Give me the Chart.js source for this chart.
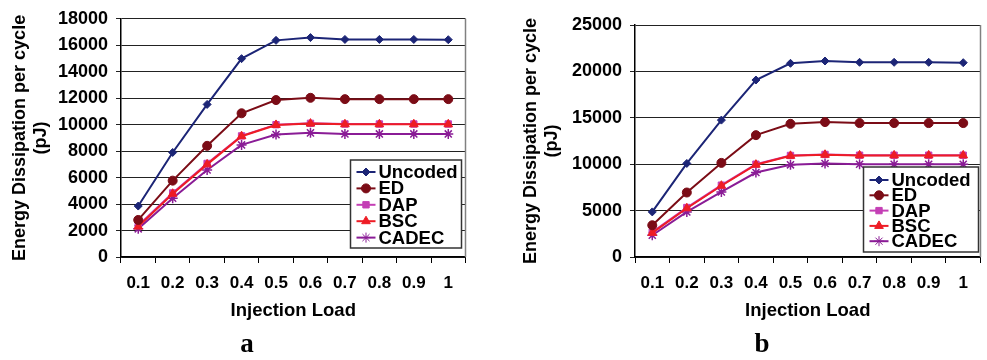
<!DOCTYPE html>
<html>
<head>
<meta charset="utf-8">
<script src="https://cdn.jsdelivr.net/npm/chart.js@4/dist/chart.umd.min.js"></script>
<style>
    body { margin: 0; background: #fff; }
    .panel { position: absolute; top: 0; height: 330px; }
    .tag {
        position: absolute; top: 330px; width: 40px; text-align: center;
        font: bold 27px "Liberation Serif", "Times New Roman", serif; line-height: 27px; color: #000;
    }
</style>
</head>
<body>
<div class="panel" style="left:0; width:472px;"><canvas id="chartA"></canvas></div>
<div class="panel" style="left:500px; width:487px;"><canvas id="chartB"></canvas></div>
<div class="tag" style="left:227px;">a</div>
<div class="tag" style="left:742px;">b</div>
<script>
// x categories
const loads = ['0.1', '0.2', '0.3', '0.4', '0.5', '0.6', '0.7', '0.8', '0.9', '1'];

// panel a values (pJ)
const uncodedA = [3850, 7900, 11530, 14990, 16370, 16580, 16440, 16440, 16440, 16420];
const edA = [2800, 5770, 8400, 10860, 11860, 12030, 11930, 11930, 11930, 11930];
const dapA = [2380, 4840, 7070, 9150, 10000, 10100, 10050, 10050, 10050, 10050];
const bscA = [2300, 4780, 7000, 9130, 9980, 10080, 10030, 10030, 10030, 10030];
const cadecA = [2130, 4440, 6570, 8470, 9250, 9380, 9300, 9300, 9300, 9300];

// panel b values (pJ)
const uncodedB = [4860, 10080, 14750, 19070, 20870, 21120, 20980, 20980, 20980, 20940];
const edB = [3420, 6950, 10140, 13130, 14350, 14540, 14430, 14430, 14430, 14430];
const dapB = [2700, 5330, 7740, 10000, 10940, 11050, 10970, 10970, 10970, 10970];
const bscB = [2600, 5250, 7680, 9950, 10900, 11020, 10950, 10950, 10950, 10950];
const cadecB = [2340, 4860, 7010, 9100, 9930, 10080, 10000, 10000, 10000, 10000];

const seriesNames = ['Uncoded', 'ED', 'DAP', 'BSC', 'CADEC'];
const seriesColors = ['#1c2576', '#7b0c16', '#c43fb5', '#ee1c25', '#8a1c96'];
const seriesMarkers = ['rectRot', 'circle', 'rect', 'triangle', 'star'];
const markerSizes = [4, 4.5, 4.5, 5, 5];
const drawOrder = [0, 1, 3, 2, 4];

const FONT = '"Liberation Sans", Arial, sans-serif';

// legend box drawn inside the plot area
const insideLegend = {
    id: 'insideLegend',
    afterDraw(chart, args, opts) {
        const ctx = chart.ctx;
        const area = chart.chartArea;
        const x = area.right - opts.right - opts.width;
        const y = area.bottom - opts.bottom - opts.height;

        ctx.save();
        // right edge of the plot frame
        ctx.strokeStyle = '#808080';
        ctx.lineWidth = 1.5;
        ctx.beginPath();
        ctx.moveTo(area.right, area.top);
        ctx.lineTo(area.right, area.bottom);
        ctx.stroke();

        ctx.fillStyle = '#fff';
        ctx.fillRect(x, y, opts.width, opts.height);
        ctx.strokeStyle = '#333';
        ctx.lineWidth = 1.5;
        ctx.strokeRect(x, y, opts.width, opts.height);

        ctx.font = 'bold 18.5px ' + FONT;
        ctx.textBaseline = 'middle';
        chart.data.datasets.forEach((ds, i) => {
            const cy = y + opts.padTop + i * opts.rowHeight;
            ctx.strokeStyle = ds.borderColor;
            ctx.fillStyle = ds.borderColor;
            ctx.lineWidth = 2;
            ctx.beginPath();
            ctx.moveTo(x + 6, cy);
            ctx.lineTo(x + 25, cy);
            ctx.stroke();
            ctx.lineWidth = 1;
            Chart.helpers.drawPoint(ctx, {
                pointStyle: ds.pointStyle, radius: ds.pointRadius, rotation: 0, borderWidth: 1
            }, x + 15.5, cy);
            ctx.fillStyle = '#000';
            ctx.fillText(ds.label, x + 28, cy + 1);
        });
        ctx.restore();
    }
};

function buildDatasets(values) {
    return values.map((data, i) => ({
        label: seriesNames[i],
        data: data,
        borderColor: seriesColors[i],
        backgroundColor: seriesColors[i],
        borderWidth: 2,
        pointStyle: seriesMarkers[i],
        pointRadius: markerSizes[i],
        pointBorderWidth: seriesMarkers[i] === 'star' ? 1.5 : 1,
        tension: 0,
        order: drawOrder[i]
    }));
}

function makeChart(canvasId, values, yMax, yStep, cfg) {
    return new Chart(document.getElementById(canvasId), {
        type: 'line',
        data: { labels: loads, datasets: buildDatasets(values) },
        plugins: [insideLegend],
        options: {
            responsive: true,
            maintainAspectRatio: false,
            animation: false,
            layout: { padding: { top: cfg.top, right: cfg.right, left: 0, bottom: 0 } },
            plugins: {
                legend: { display: false },
                tooltip: { enabled: false },
                insideLegend: cfg.legend
            },
            scales: {
                x: {
                    offset: true,
                    grid: { offset: true, drawOnChartArea: false, drawTicks: true, tickLength: 6, color: '#000', lineWidth: 1 },
                    border: { color: '#000', width: 1.5 },
                    ticks: { color: '#000', font: { family: FONT, size: 17, weight: 'bold' }, padding: 10, maxRotation: 0 },
                    title: {
                        display: true, text: 'Injection Load', color: '#000',
                        font: { family: FONT, size: 18.5, weight: 'bold' }, padding: { top: 4, bottom: 8 }
                    },
                    afterFit: (scale) => { scale.height = cfg.xHeight; }
                },
                y: {
                    min: 0,
                    max: yMax,
                    ticks: {
                        stepSize: yStep, color: '#000', padding: 8,
                        font: { family: FONT, size: 18, weight: 'bold' },
                        callback: (v) => String(v)
                    },
                    grid: { color: '#222', lineWidth: 1, tickLength: 5 },
                    border: { color: '#000', width: 1.5 },
                    title: {
                        display: true, text: ['Energy Dissipation per cycle', '(pJ)'], color: '#000',
                        font: { family: FONT, size: 18, weight: 'bold', lineHeight: 1.2 }, padding: { top: cfg.titlePad, bottom: 0 }
                    },
                    afterFit: (scale) => { scale.width = cfg.yWidth; }
                }
            }
        }
    });
}

makeChart('chartA', [uncodedA, edA, dapA, bscA, cadecA], 18000, 2000, {
    top: 17, right: 5, yWidth: 121, xHeight: 73, titlePad: 9,
    legend: { width: 111, height: 88, right: 4, bottom: 9, padTop: 12, rowHeight: 16.4 }
});

makeChart('chartB', [uncodedB, edB, dapB, bscB, cadecB], 25000, 5000, {
    top: 25, right: 2, yWidth: 135, xHeight: 73, titlePad: 20,
    legend: { width: 115, height: 85, right: 2, bottom: 5, padTop: 13, rowHeight: 15.3 }
});
</script>
</body>
</html>
